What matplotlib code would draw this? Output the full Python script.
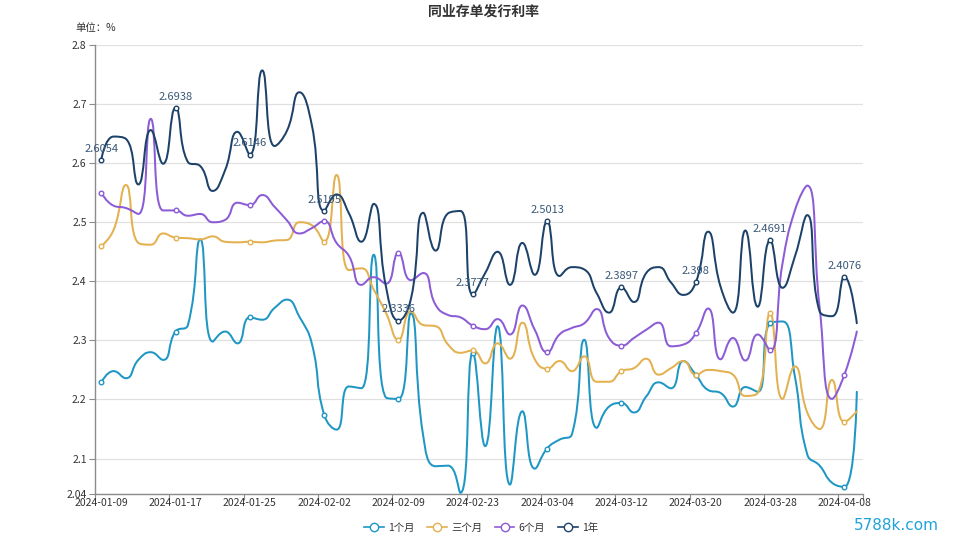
import matplotlib
matplotlib.use('Agg')
import matplotlib.pyplot as plt
from matplotlib.path import Path
from matplotlib.patches import PathPatch
from matplotlib.lines import Line2D
import numpy as np

plt.rcParams['font.family'] = ['Noto Sans CJK SC', 'DejaVu Sans']

dates = ['2024-01-09', '2024-01-10', '2024-01-11', '2024-01-12', '2024-01-15', '2024-01-16',
         '2024-01-17', '2024-01-18', '2024-01-19', '2024-01-22', '2024-01-23', '2024-01-24',
         '2024-01-25', '2024-01-26', '2024-01-29', '2024-01-30', '2024-01-31', '2024-02-01',
         '2024-02-02', '2024-02-04', '2024-02-05', '2024-02-06', '2024-02-07', '2024-02-08',
         '2024-02-09', '2024-02-18', '2024-02-19', '2024-02-20', '2024-02-21', '2024-02-22',
         '2024-02-23', '2024-02-26', '2024-02-27', '2024-02-28', '2024-02-29', '2024-03-01',
         '2024-03-04', '2024-03-05', '2024-03-06', '2024-03-07', '2024-03-08', '2024-03-11',
         '2024-03-12', '2024-03-13', '2024-03-14', '2024-03-15', '2024-03-18', '2024-03-19',
         '2024-03-20', '2024-03-21', '2024-03-22', '2024-03-25', '2024-03-26', '2024-03-27',
         '2024-03-28', '2024-03-29', '2024-04-01', '2024-04-02', '2024-04-03', '2024-04-07',
         '2024-04-08', '2024-04-09']

one_month = [2.229, 2.248, 2.236, 2.267, 2.280, 2.267, 2.315, 2.326, 2.471, 2.298,
             2.315, 2.295, 2.339, 2.335, 2.355, 2.369, 2.340, 2.295, 2.174, 2.149,
             2.222, 2.219, 2.445, 2.203, 2.201, 2.346, 2.138, 2.087, 2.088, 2.042,
             2.279, 2.121, 2.324, 2.056, 2.180, 2.083, 2.117, 2.132, 2.141, 2.301,
             2.152, 2.188, 2.194, 2.178, 2.205, 2.229, 2.219, 2.265, 2.242, 2.216,
             2.211, 2.188, 2.221, 2.213, 2.329, 2.332, 2.239, 2.107, 2.088, 2.059,
             2.052, 2.213]

three_month = [2.459, 2.487, 2.563, 2.465, 2.462, 2.481, 2.474, 2.473, 2.471, 2.476,
               2.467, 2.466, 2.467, 2.466, 2.469, 2.470, 2.500, 2.495, 2.467, 2.580,
               2.419, 2.422, 2.386, 2.346, 2.301, 2.349, 2.326, 2.324, 2.293, 2.279,
               2.283, 2.261, 2.295, 2.269, 2.330, 2.268, 2.252, 2.265, 2.248, 2.273,
               2.230, 2.230, 2.248, 2.253, 2.269, 2.242, 2.253, 2.265, 2.242, 2.250,
               2.248, 2.242, 2.206, 2.211, 2.346, 2.201, 2.256, 2.178, 2.150, 2.233,
               2.162, 2.180]

six_month = [2.550, 2.528, 2.524, 2.514, 2.675, 2.520, 2.520, 2.511, 2.514, 2.500,
             2.504, 2.533, 2.529, 2.546, 2.526, 2.503, 2.481, 2.490, 2.502, 2.465,
             2.443, 2.394, 2.407, 2.396, 2.448, 2.402, 2.414, 2.360, 2.343, 2.339,
             2.325, 2.319, 2.336, 2.310, 2.359, 2.318, 2.280, 2.310, 2.321, 2.329,
             2.353, 2.304, 2.291, 2.304, 2.318, 2.330, 2.290, 2.293, 2.312, 2.354,
             2.268, 2.304, 2.266, 2.310, 2.283, 2.430, 2.520, 2.562, 2.355, 2.201,
             2.242, 2.315]

one_year = [2.6054, 2.645, 2.641, 2.564, 2.656, 2.599, 2.6938, 2.602, 2.595, 2.553,
            2.588, 2.653, 2.6146, 2.757, 2.629, 2.655, 2.720, 2.665, 2.5195, 2.547,
            2.515, 2.467, 2.531, 2.390, 2.3336, 2.370, 2.516, 2.452, 2.515, 2.519,
            2.3777, 2.414, 2.450, 2.394, 2.465, 2.411, 2.5013, 2.409, 2.424, 2.420,
            2.380, 2.347, 2.3897, 2.365, 2.414, 2.424, 2.398, 2.377, 2.398, 2.484,
            2.391, 2.347, 2.486, 2.357, 2.4691, 2.389, 2.442, 2.512, 2.349, 2.341,
            2.4076, 2.329]

series_names = ['1个月', '三个月', '6个月', '1年']
series_values = [one_month, three_month, six_month, one_year]
colors = ['#1f97c4', '#e3b14f', '#8c5bd6', '#1d4269']

y_ticks = [2.04, 2.1, 2.2, 2.3, 2.4, 2.5, 2.6, 2.7, 2.8]
y_labels = ['2.04', '2.1', '2.2', '2.3', '2.4', '2.5', '2.6', '2.7', '2.8']
label_step = 6

W, H = 959, 539
fig = plt.figure(figsize=(W / 100, H / 100), dpi=100)
ax = fig.add_axes([95 / W, 1 - 494 / H, (863 - 95) / W, (494 - 45) / H])
n = len(dates)
ax.set_xlim(-0.5, n - 0.5)
ax.set_ylim(2.04, 2.8)


def echarts_smooth(ax, xs, ys, smooth=0.5):
    pts = ax.transData.transform(np.column_stack([xs, ys]))
    verts = [tuple(pts[0])]
    codes = [Path.MOVETO]
    cpx0, cpy0 = pts[0]
    prevX, prevY = pts[0]
    m = len(pts)
    for i in range(1, m):
        x, y = pts[i]
        if i == m - 1:
            cpx1, cpy1 = x, y
            nextCpx0, nextCpy0 = x, y
        else:
            nextX, nextY = pts[i + 1]
            vx = nextX - prevX
            vy = nextY - prevY
            dx0 = x - prevX; dy0 = y - prevY
            dx1 = nextX - x; dy1 = nextY - y
            lenPrev = np.hypot(dx0, dy0)
            lenNext = np.hypot(dx1, dy1)
            ratio = lenNext / (lenNext + lenPrev)
            nextCpx0 = x + vx * smooth * ratio
            nextCpy0 = y + vy * smooth * ratio
            nextCpx0 = min(nextCpx0, max(nextX, x)); nextCpy0 = min(nextCpy0, max(nextY, y))
            nextCpx0 = max(nextCpx0, min(nextX, x)); nextCpy0 = max(nextCpy0, min(nextY, y))
            vx = nextCpx0 - x; vy = nextCpy0 - y
            cpx1 = x - vx * lenPrev / lenNext
            cpy1 = y - vy * lenPrev / lenNext
            cpx1 = min(cpx1, max(prevX, x)); cpy1 = min(cpy1, max(prevY, y))
            cpx1 = max(cpx1, min(prevX, x)); cpy1 = max(cpy1, min(prevY, y))
            vx = x - cpx1; vy = y - cpy1
            nextCpx0 = x + vx * lenNext / lenPrev
            nextCpy0 = y + vy * lenNext / lenPrev
        verts += [(cpx0, cpy0), (cpx1, cpy1), (x, y)]
        codes += [Path.CURVE4] * 3
        cpx0, cpy0 = nextCpx0, nextCpy0
        prevX, prevY = x, y
    data_verts = ax.transData.inverted().transform(np.array(verts))
    return Path(data_verts, codes)


xs = np.arange(n)
for vals, c in zip(series_values, colors):
    path = echarts_smooth(ax, xs, np.array(vals))
    ax.add_patch(PathPatch(path, fill=False, edgecolor=c, lw=1.45, zorder=3,
                           capstyle='round', joinstyle='round'))
    idx = list(range(0, n, label_step))
    ax.plot(xs[idx], np.array(vals)[idx], linestyle='none', marker='o', ms=3.3,
            mfc='white', mec=c, mew=1.0, zorder=4)

# labels on 1年 series
for i in range(0, n, label_step):
    ax.annotate(f'{one_year[i]:g}', (i, one_year[i]), xytext=(0, 8), textcoords='offset points',
                ha='center', va='center', fontsize=8, color='#3a5878', zorder=5)

# axes styling
for s in ['top', 'right']:
    ax.spines[s].set_visible(False)
for s in ['left', 'bottom']:
    ax.spines[s].set_color('#8c8c8c')
    ax.spines[s].set_linewidth(1.0)

ax.set_yticks(y_ticks)
ax.set_yticklabels(y_labels)
ax.yaxis.grid(True, color='#e0e0e0', lw=0.9)
ax.set_axisbelow(True)
ax.tick_params(axis='y', length=4, color='#8c8c8c', labelsize=7.5, labelcolor='#333333', pad=2)

major_x = [k - 0.5 for k in range(0, n, label_step)] + [n - 0.5]
ax.set_xticks(major_x)
ax.set_xticklabels([''] * len(major_x))
ax.set_xticks(list(range(0, n, label_step)), minor=True)
ax.set_xticklabels([dates[i] for i in range(0, n, label_step)], minor=True)
ax.tick_params(axis='x', which='major', length=4, color='#8c8c8c')
ax.tick_params(axis='x', which='minor', length=0, labelsize=7.5, labelcolor='#333333', pad=3)

fig.text(483 / W, 1 - 12 / H, '同业存单发行利率', ha='center', va='center',
         fontsize=10, fontweight='bold', color='#333333')
fig.text(75 / W, 1 - 28 / H, '单位：%', ha='left', va='center', fontsize=7.5, color='#333333')

handles = [Line2D([], [], color=c, lw=1.2, marker='o', ms=6, mfc='white', mec=c, mew=1.0)
           for c in colors]
fig.legend(handles, series_names, loc='center', bbox_to_anchor=(481 / W, 1 - 528 / H),
           ncol=4, frameon=False, fontsize=7.5, handlelength=1.9, handletextpad=0.4,
           columnspacing=1.2, labelcolor='#333333')

fig.text(896 / W, 1 - 525 / H, '5788k.com', ha='center', va='center', fontsize=11,
         color='#1fa3dc', family=['DejaVu Sans'])

fig.savefig('out.png', dpi=100)
